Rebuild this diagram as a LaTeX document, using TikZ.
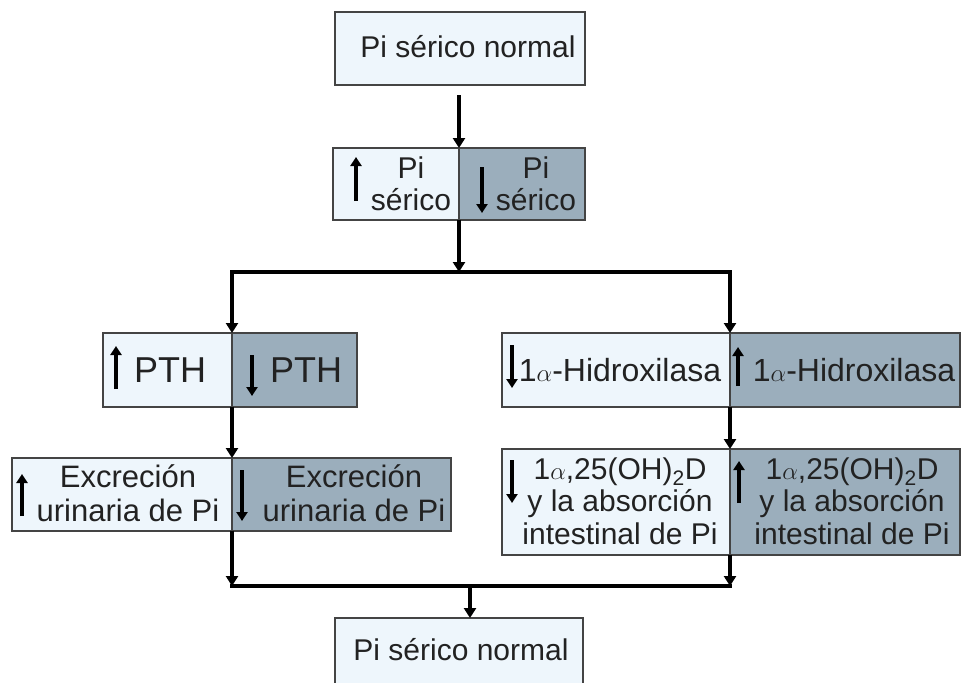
\documentclass[tikz,border=0pt]{standalone}
\usepackage{fontspec}
\setmainfont{Liberation Sans}
\usetikzlibrary{arrows.meta}
\definecolor{lightbox}{HTML}{EEF6FC}
\definecolor{darkbox}{HTML}{9BAEBC}
\definecolor{edge}{HTML}{444444}
\definecolor{ink}{HTML}{222222}
\tikzset{
  half/.style={draw=edge, line width=1.5pt, anchor=north west, inner sep=0pt, outer sep=0pt},
  lt/.style={half, fill=lightbox},
  dk/.style={half, fill=darkbox},
  lbl/.style={text=ink, font=\fontsize{30}{32.5}\selectfont, align=center, inner sep=0pt},
  mid/.style={lbl, font=\fontsize{31}{34}\selectfont},
  wide/.style={lbl, font=\fontsize{32}{34}\selectfont},
  big/.style={lbl, font=\fontsize{36}{40}\selectfont},
  conn/.style={line width=3.5pt, -{Triangle[length=10pt,width=12pt]}},
  wire/.style={line width=3.5pt},
  glyph/.style={line width=4.2pt, -{Triangle[length=9pt,width=11pt]}},
}
\begin{document}
\begin{tikzpicture}[x=1pt, y=-1pt]
\clip (0,0) rectangle (962,683);
\fill[white] (0,0) rectangle (962,683);

% boxes
\node[lt, minimum width=250pt, minimum height=73pt] (top) at (335,12) {};
\node[lt, minimum width=126pt, minimum height=72pt] (s1) at (333,148) {};
\node[dk, minimum width=126pt, minimum height=72pt] (s2) at (459,148) {};
\node[lt, minimum width=129pt, minimum height=74pt] (p1) at (103,333) {};
\node[dk, minimum width=125pt, minimum height=74pt] (p2) at (232,333) {};
\node[lt, minimum width=220pt, minimum height=73pt] (e1) at (12,458) {};
\node[dk, minimum width=219pt, minimum height=73pt] (e2) at (232,458) {};
\node[lt, minimum width=228pt, minimum height=74pt] (h1) at (502,333) {};
\node[dk, minimum width=230pt, minimum height=74pt] (h2) at (730,333) {};
\node[lt, minimum width=228pt, minimum height=106pt] (d1) at (502,449) {};
\node[dk, minimum width=230pt, minimum height=106pt] (d2) at (730,449) {};
\node[lt, minimum width=248pt, minimum height=90pt] (bot) at (335,618) {};

% labels
\node[lbl] (t0) at (468,47) {Pi sérico normal};
\node[lbl] (ts1) at (411,184) {Pi\\sérico};
\node[lbl] (ts2) at (536,184) {Pi\\sérico};
\node[big] (tp1) at (170,370) {PTH};
\node[big] (tp2) at (306,370) {PTH};
\node[mid] (te1) at (128,493) {Excreción\\urinaria de Pi};
\node[mid] (te2) at (354,493) {Excreción\\urinaria de Pi};
\node[wide] (th1) at (620,370) {1$\alpha$-Hidroxilasa};
\node[wide] (th2) at (854,370) {1$\alpha$-Hidroxilasa};
\node[lbl] (td1) at (620,501) {1$\alpha$,25(OH)\textsubscript{2}D\\y la absorción\\intestinal de Pi};
\node[lbl] (td2) at (852,501) {1$\alpha$,25(OH)\textsubscript{2}D\\y la absorción\\intestinal de Pi};
\node[lbl] (tb) at (461,650) {Pi sérico normal};

% up/down glyph arrows
\draw[glyph] (356,201) -- (356,157);
\draw[glyph] (482,167) -- (482,213);
\draw[glyph] (116,389) -- (116,346);
\draw[glyph] (252,355) -- (252,396);
\draw[glyph] (22,516) -- (22,474);
\draw[glyph] (242,470) -- (242,521);
\draw[glyph] (512,345) -- (512,388);
\draw[glyph] (738,386) -- (738,347);
\draw[glyph] (512,460) -- (512,503);
\draw[glyph] (739,503) -- (739,461);

% connectors
\coordinate (jt) at (459,272);
\coordinate (jl) at (232,272);
\coordinate (jr) at (730,272);
\coordinate (bl) at (232,586);
\coordinate (br) at (730,586);
\coordinate (bm) at (470,586);
\coordinate (ts) at ([yshift=-10pt]top.south -| s1.north east);
\draw[conn] (ts) -- (s1.north east);
\draw[conn] (s1.south east) -- (jt);
\draw[wire] ([xshift=-1.75pt]jl) -- ([xshift=1.75pt]jr);
\draw[conn] (jl) -- (p1.north east);
\draw[conn] (jr) -- (h1.north east);
\draw[conn] (p1.south east) -- (e1.north east);
\draw[conn] (h1.south east) -- (d1.north east);
\draw[conn] (e1.south east) -- (bl);
\draw[conn] (d1.south east) -- (br);
\draw[wire] ([xshift=-1.75pt]bl) -- ([xshift=1.75pt]br);
\draw[conn] (bm) -- (bm |- bot.north);
\end{tikzpicture}
\end{document}
